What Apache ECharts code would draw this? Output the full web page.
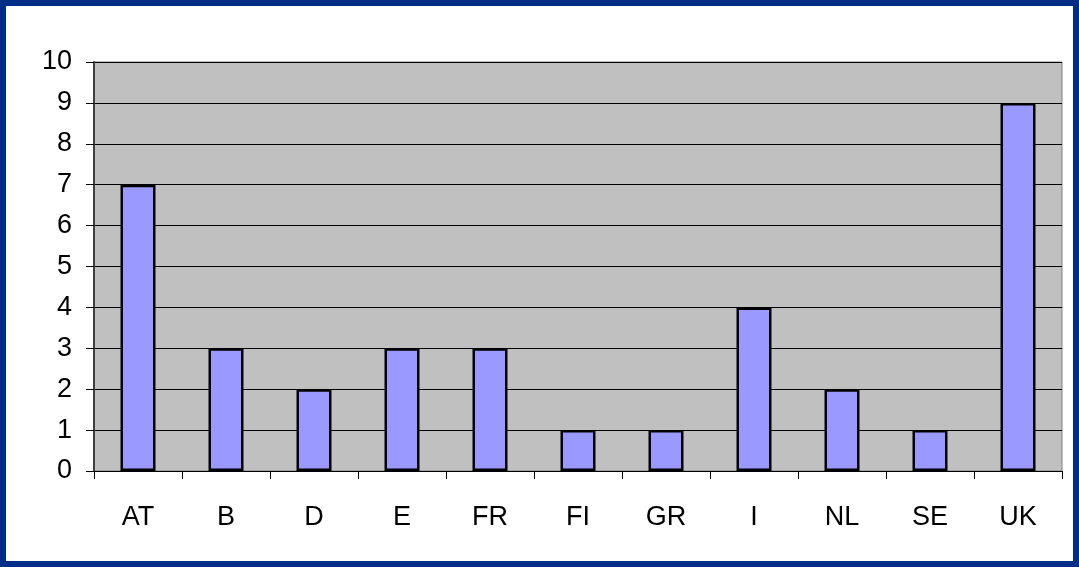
<!DOCTYPE html>
<html>
<head>
<meta charset="utf-8">
<script src="https://cdn.jsdelivr.net/npm/echarts@6/dist/echarts.min.js"></script>
<style>
  html, body { margin: 0; padding: 0; }
  #chart { width: 1079px; height: 567px; }
</style>
</head>
<body>
<div id="chart"></div>
<script>
const countries = ["AT", "B", "D", "E", "FR", "FI", "GR", "I", "NL", "SE", "UK"]
const counts = [7, 3, 2, 3, 3, 1, 1, 4, 2, 1, 9]
const yTicks = { min: 0, max: 10, step: 1 }

const chart = echarts.init(document.getElementById("chart"))

chart.setOption({
  backgroundColor: "#002D86",
  animation: false,
  graphic: [
    {
      type: "rect",
      left: 6,
      top: 6,
      shape: { width: 1067, height: 555 },
      style: { fill: "#ffffff" },
      z: -10,
    },
  ],
  grid: {
    left: 94,
    right: 17,
    top: 62,
    bottom: 96,
    show: true,
    backgroundColor: "#C0C0C0",
    borderColor: "#808080",
    borderWidth: 1,
  },
  xAxis: {
    type: "category",
    data: countries,
    axisLine: { lineStyle: { color: "#000", width: 1 } },
    axisTick: { show: true, length: 8, lineStyle: { color: "#000" } },
    axisLabel: {
      color: "#000",
      fontSize: 27,
      fontFamily: "Liberation Sans, Arial, sans-serif",
      margin: 33,
    },
  },
  yAxis: {
    type: "value",
    min: yTicks.min,
    max: yTicks.max,
    interval: yTicks.step,
    axisLine: { show: true, lineStyle: { color: "#404040", width: 2 } },
    axisTick: { show: true, length: 8, lineStyle: { color: "#000" } },
    splitLine: { lineStyle: { color: "#000", width: 1 } },
    axisLabel: {
      color: "#000",
      fontSize: 27,
      fontFamily: "Liberation Sans, Arial, sans-serif",
      margin: 22,
    },
  },
  series: [
    {
      type: "bar",
      data: counts,
      barWidth: 35,
      itemStyle: {
        color: "#9999FF",
        borderColor: "#000",
        borderWidth: 2.5,
      },
    },
  ],
})
</script>
</body>
</html>
